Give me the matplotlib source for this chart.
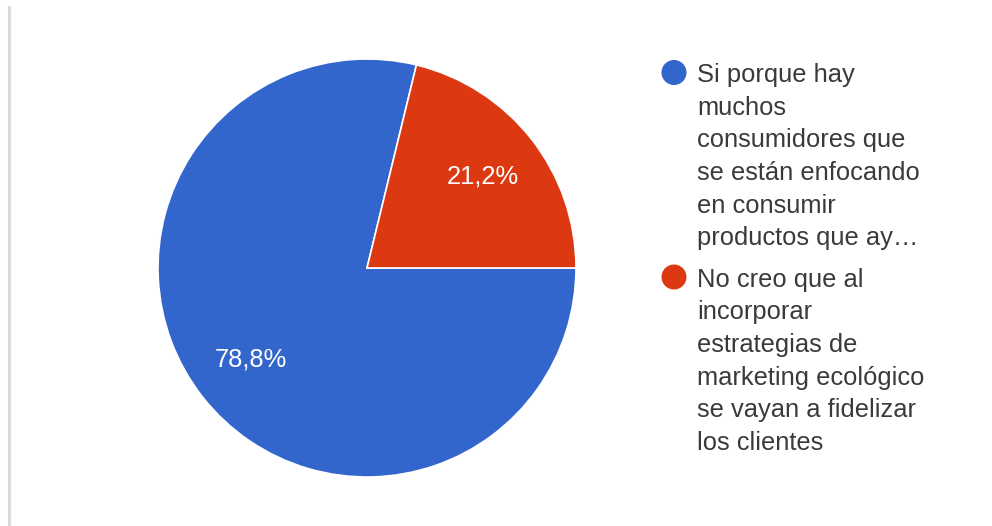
import matplotlib
matplotlib.use("Agg")
import matplotlib.pyplot as plt
from matplotlib.patches import Circle
from matplotlib.lines import Line2D

# Survey answers and their shares (%)
labels = [
    "Si porque hay\nmuchos\nconsumidores que\nse están enfocando\nen consumir\nproductos que ay…",
    "No creo que al\nincorporar\nestrategias de\nmarketing ecológico\nse vayan a fidelizar\nlos clientes",
]
values = [78.8, 21.2]
colors = ["#3366CC", "#DC3912"]

W, H = 992, 526
FONT = ["Liberation Sans", "DejaVu Sans"]
plt.rcParams["font.family"] = FONT

fig = plt.figure(figsize=(W / 100, H / 100), dpi=100)
fig.patch.set_facecolor("white")

# Pie axes: square box centred at (367, 268) px, radius 209 px
cx, cy, r = 367, 268, 209
ax = fig.add_axes([(cx - r) / W, (H - cy - r) / H, 2 * r / W, 2 * r / H])
start = values[1] / 100 * 360
ax.pie(
    values,
    colors=colors,
    startangle=start,
    counterclock=True,
    radius=1,
    autopct=lambda p: f"{p:.1f}".replace(".", ",") + "%",
    pctdistance=0.705,
    wedgeprops=dict(edgecolor="white", linewidth=1.2),
    textprops=dict(color="white", fontsize=18.4),
)
ax.set_xlim(-1, 1)
ax.set_ylim(-1, 1)
ax.set_aspect("equal")
ax.axis("off")

# Overlay axes in pixel coordinates for the legend and frame line
ov = fig.add_axes([0, 0, 1, 1])
ov.set_xlim(0, W)
ov.set_ylim(H, 0)
ov.axis("off")

ov.add_line(Line2D([9, 9], [7, H], color="#dadada", linewidth=2.2))

marker_x = 674
text_x = 697
line_h = 32.7
first_baseline = [82, 286.5]
for lab, col, base in zip(labels, colors, first_baseline):
    ov.add_patch(Circle((marker_x, base - 9.5), 12.5, color=col, linewidth=0))
    for i, line in enumerate(lab.split("\n")):
        ov.text(text_x, base + i * line_h, line, fontsize=18.4, color="#3a3a3a",
                va="baseline", ha="left")

fig.savefig("out.png", dpi=100, facecolor="white")
